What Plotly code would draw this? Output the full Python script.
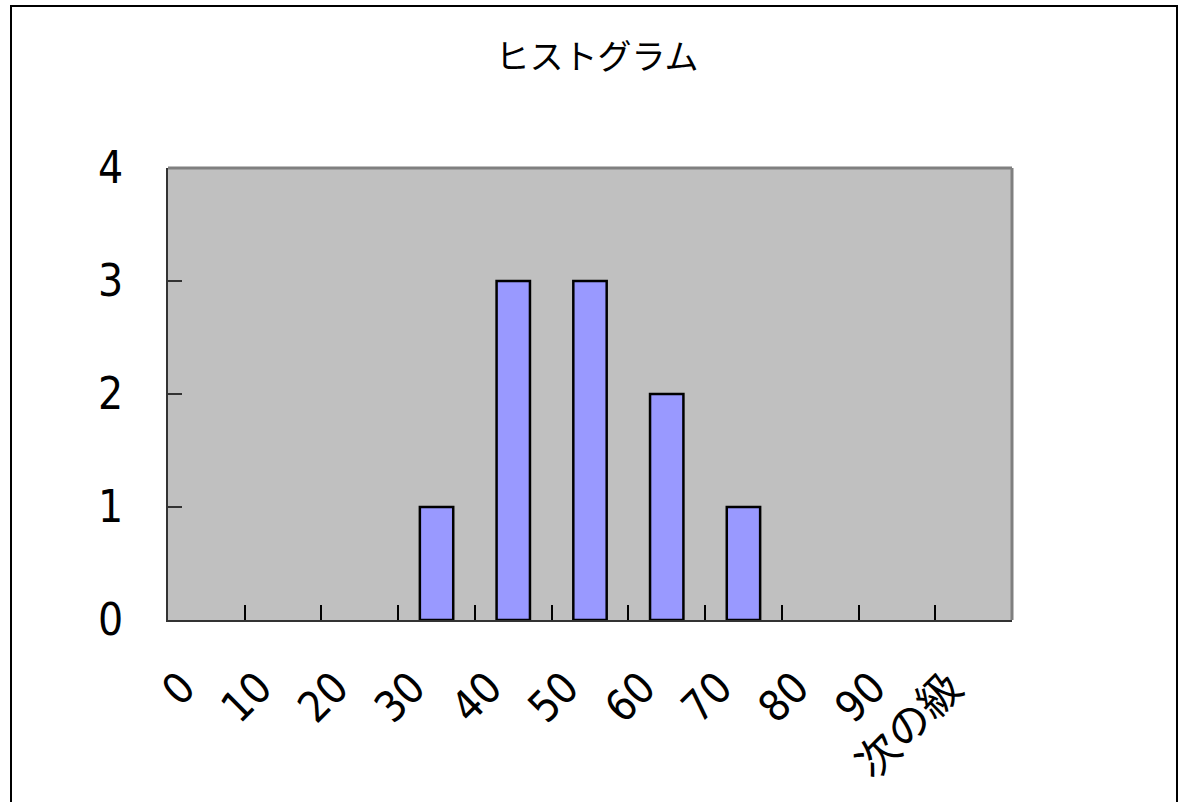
import plotly.graph_objects as go

# Histogram frequency table
bins = ["0", "10", "20", "30", "40", "50", "60", "70", "80", "90", "次の級"]
counts = [0, 0, 0, 1, 3, 3, 2, 1, 0, 0, 0]
y_ticks = [0, 1, 2, 3, 4]

W, H = 1182, 802
L, R, T, B = 168, 1012, 168, 620

# empty classes get no bar outline
bar_heights = [c if c > 0 else None for c in counts]

fig = go.Figure()
fig.add_trace(go.Bar(
    x=bins, y=bar_heights,
    marker=dict(color="#9999FF", line=dict(color="#000000", width=2.5)),
    width=0.435,
))

num_family = "Liberation Sans Narrow, Arial Narrow, DejaVu Sans Condensed, sans-serif"

fig.update_layout(
    width=W, height=H,
    margin=dict(l=L, r=W - R, t=T, b=H - B, pad=0),
    paper_bgcolor="#FFFFFF",
    plot_bgcolor="#C0C0C0",
    showlegend=False,
    title=dict(
        text="ヒストグラム",
        font=dict(family="Noto Sans CJK JP, sans-serif", size=34, color="#000000"),
        x=597 / W, xanchor="center", xref="container",
        y=1 - 57 / H, yanchor="middle", yref="container",
    ),
    xaxis=dict(
        type="category",
        tickson="boundaries",
        ticks="inside", ticklen=15, tickwidth=1.5, tickcolor="#000000",
        showline=True, linecolor="#333333", linewidth=2,
        showgrid=False, zeroline=False,
        tickangle=-45,
        tickfont=dict(family=num_family + ", Noto Sans CJK JP", size=43, color="#000000"),
        ticklabelstandoff=23,
        ticklabelshift=-24,
        range=[-0.5, 10.5],
    ),
    yaxis=dict(
        range=[0, 4],
        tickvals=y_ticks,
        ticks="inside", ticklen=14, tickwidth=2, tickcolor="#333333",
        showline=True, linecolor="#333333", linewidth=2,
        showgrid=False, zeroline=False,
        tickfont=dict(family=num_family, size=44, color="#000000"),
        ticklabelstandoff=34,
    ),
)

# Plot-area frame (gray top and right edges)
fig.add_shape(type="line", xref="paper", yref="paper", x0=0, x1=1, y0=1, y1=1,
              line=dict(color="#808080", width=3), layer="above")
fig.add_shape(type="line", xref="paper", yref="paper", x0=1, x1=1, y0=0, y1=1,
              line=dict(color="#808080", width=3), layer="above")

# Chart-area outer border
pw, ph = R - L, B - T
fig.add_shape(type="rect", xref="paper", yref="paper",
              x0=(11 - L) / pw, x1=(1177 - L) / pw,
              y0=(B - 812) / ph, y1=(B - 6) / ph,
              line=dict(color="#000000", width=2), fillcolor="rgba(0,0,0,0)")

fig.write_html("out.html")
